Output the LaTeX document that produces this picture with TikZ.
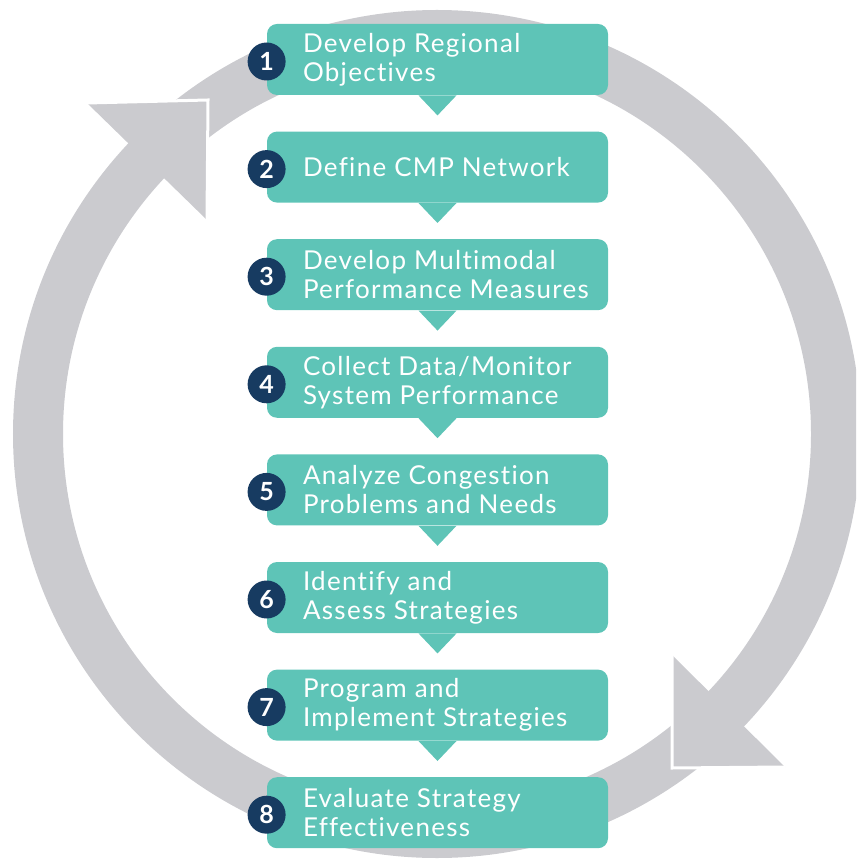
\documentclass[tikz,border=0pt]{standalone}
\usepackage{fontspec}
\setmainfont{Lato}[Ligatures={NoCommon}, LetterSpace=5]
\newfontfamily\numfont{Lato}[Ligatures={NoCommon}]
\usetikzlibrary{positioning}
\definecolor{stepteal}{HTML}{5EC4B7}
\definecolor{numnavy}{HTML}{173B61}
\definecolor{ringgray}{HTML}{CBCBCF}
\tikzset{
  stepbox/.style={fill=stepteal, rounded corners=5pt, minimum width=170.5pt, minimum height=35.5pt, inner sep=0pt},
  steptext/.style={text=white, align=left, inner sep=0pt, font=\fontsize{13}{14.5}\selectfont},
  stepnum/.style={circle, fill=numnavy, text=white, minimum size=19pt, inner sep=0pt, font=\numfont\fontsize{12.5}{12.5}\selectfont\bfseries},
  ring/.style={draw=ringgray, line width=25pt},
  tip/.style={fill=ringgray},
  tipedge/.style={draw=white, line width=1.5pt},
}
\begin{document}
\begin{tikzpicture}[x=0.5pt,y=-0.5pt]
\clip (0,0) rectangle (856,860);
\useasboundingbox (0,0) rectangle (856,860);
% cycle ring with its two arrow heads
\path[ring] (437,434) circle[radius=399];
\path[tip] (208,100) -- (87,103) -- (207,220) -- cycle;
\path[tipedge] (87,103) -- (208,100) -- (207,220);
\path[tip] (672,768) -- (785,767) -- (672,655) -- cycle;
\path[tipedge] (785,767) -- (672,768) -- (672,655);
% steps
\node[stepbox] (b1) at (437.5,59.5) {};
\node[stepbox] (b2) at (437.5,167.1) {};
\node[stepbox] (b3) at (437.5,274.7) {};
\node[stepbox] (b4) at (437.5,382.3) {};
\node[stepbox] (b5) at (437.5,489.9) {};
\node[stepbox] (b6) at (437.5,597.5) {};
\node[stepbox] (b7) at (437.5,705.1) {};
\node[stepbox] (b8) at (437.5,812.7) {};
\path[fill=stepteal] ([xshift=-9.5pt]b1.south) -- ([xshift=9.5pt]b1.south) -- ([yshift=-10pt]b1.south) -- cycle;
\path[fill=stepteal] ([xshift=-9.5pt]b2.south) -- ([xshift=9.5pt]b2.south) -- ([yshift=-10pt]b2.south) -- cycle;
\path[fill=stepteal] ([xshift=-9.5pt]b3.south) -- ([xshift=9.5pt]b3.south) -- ([yshift=-10pt]b3.south) -- cycle;
\path[fill=stepteal] ([xshift=-9.5pt]b4.south) -- ([xshift=9.5pt]b4.south) -- ([yshift=-10pt]b4.south) -- cycle;
\path[fill=stepteal] ([xshift=-9.5pt]b5.south) -- ([xshift=9.5pt]b5.south) -- ([yshift=-10pt]b5.south) -- cycle;
\path[fill=stepteal] ([xshift=-9.5pt]b6.south) -- ([xshift=9.5pt]b6.south) -- ([yshift=-10pt]b6.south) -- cycle;
\path[fill=stepteal] ([xshift=-9.5pt]b7.south) -- ([xshift=9.5pt]b7.south) -- ([yshift=-10pt]b7.south) -- cycle;
\node[stepnum] (n1) at ([yshift=-1pt]b1.west) {1};
\node[stepnum] (n2) at ([yshift=-1pt]b2.west) {2};
\node[stepnum] (n3) at ([yshift=-1pt]b3.west) {3};
\node[stepnum] (n4) at ([yshift=-1pt]b4.west) {4};
\node[stepnum] (n5) at ([yshift=-1pt]b5.west) {5};
\node[stepnum] (n6) at ([yshift=-1pt]b6.west) {6};
\node[stepnum] (n7) at ([yshift=-1pt]b7.west) {7};
\node[stepnum] (n8) at ([yshift=-1pt]b8.west) {8};
\node[steptext, right=18pt of b1.west] (t1) {Develop Regional\\Objectives};
\node[steptext, right=18pt of b2.west] (t2) {Define CMP Network};
\node[steptext, right=18pt of b3.west] (t3) {Develop Multimodal\\Performance Measures};
\node[steptext, right=18pt of b4.west] (t4) {Collect Data/Monitor\\System Performance};
\node[steptext, right=18pt of b5.west] (t5) {Analyze Congestion\\Problems and Needs};
\node[steptext, right=18pt of b6.west] (t6) {Identify and\\Assess Strategies};
\node[steptext, right=18pt of b7.west] (t7) {Program and\\Implement Strategies};
\node[steptext, right=18pt of b8.west] (t8) {Evaluate Strategy\\Effectiveness};
\end{tikzpicture}
\end{document}
